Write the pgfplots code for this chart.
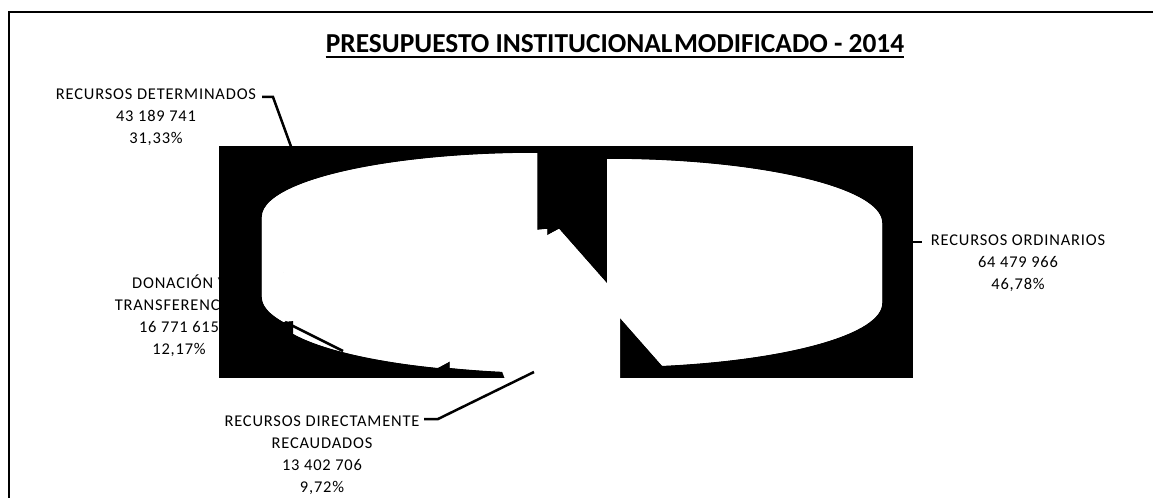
\documentclass[border=0pt]{standalone}
\usepackage{fontspec}
\setmainfont{Carlito}
\usepackage{pgfplots}
\pgfplotsset{compat=1.18}

% shares in %, clockwise from 12 o'clock
\def\pOrd{46.78}
\def\pDir{9.72}
\def\pDon{12.17}
\def\pDet{31.33}
% pie geometry (px)
\def\rxv{275}\def\ryv{64}\def\dep{80bp}

\newcommand\slice[4]{% top-face centre x, y, start angle, end angle
  \fill[white] (axis cs:#1,#2) -- ++(#3:\rxv bp and \ryv bp) arc[start angle=#3,end angle=#4,x radius=\rxv bp,y radius=\ryv bp] -- cycle;
  \fill[white] (axis cs:#1,#2) ++(0,-\dep) -- ++(#3:\rxv bp and \ryv bp) arc[start angle=#3,end angle=#4,x radius=\rxv bp,y radius=\ryv bp] -- cycle;
  \fill[white] (axis cs:#1,#2) -- ++(#3:\rxv bp and \ryv bp) -- ++(0,-\dep) -- ++(#3+180:\rxv bp and \ryv bp) -- cycle;
  \fill[white] (axis cs:#1,#2) -- ++(#4:\rxv bp and \ryv bp) -- ++(0,-\dep) -- ++(#4+180:\rxv bp and \ryv bp) -- cycle;
}
\newcommand\band[4]{% side of the slice between two angles (no vertical tangent inside)
  \fill[white] (axis cs:#1,#2) ++(#3:\rxv bp and \ryv bp) arc[start angle=#3,end angle=#4,x radius=\rxv bp,y radius=\ryv bp]
     -- ++(0,-\dep) arc[start angle=#4,end angle=#3,x radius=\rxv bp,y radius=\ryv bp] -- cycle;
}

\begin{document}
\begin{tikzpicture}
\pgfmathsetmacro\aA{90}
\pgfmathsetmacro\aB{\aA-3.6*\pOrd}
\pgfmathsetmacro\aC{\aB-3.6*\pDir}
\pgfmathsetmacro\aD{\aC-3.6*\pDon}
\pgfmathsetmacro\aE{\aD-3.6*\pDet}
\path[use as bounding box] (0,0) rectangle (1153bp,498bp);
\begin{axis}[at={(0,0)},anchor=south west,scale only axis,width=1153bp,height=498bp,
  xmin=0,xmax=1153,ymin=0,ymax=498,y dir=reverse,hide axis,clip=false]
% frame
\draw[line width=1.5bp] (axis cs:9,510) -- (axis cs:9,12) -- (axis cs:1160,12);
% title
\node[anchor=base,inner sep=0pt,font=\fontsize{27.5}{30}\selectfont\bfseries] (t) at (axis cs:615,53)
  {PRESUPUESTO INSTITUCIONAL\hspace{1.5bp}MODIFICADO - 2014};
\draw[line width=2.2bp] ([yshift=-4bp]t.base west) -- ([yshift=-4bp]t.base east);
% labels (anchor = baseline of the last line)
\tikzset{lab/.style={anchor=base,inner sep=0pt,align=center,
  font=\fontsize{16.5}{22}\selectfont\addfontfeature{LetterSpace=5}}}
\node[lab] at (axis cs:156,143) {RECURSOS DETERMINADOS\\43 189 741\\31,33\%};
\node[lab] at (axis cs:1018,289) {RECURSOS ORDINARIOS\\64 479 966\\46,78\%};
\node[lab] at (axis cs:179,354) {DONACIÓN Y\\TRANSFERENCIAS\\16 771 615\\12,17\%};
\node[lab] at (axis cs:322,492) {RECURSOS DIRECTAMENTE\\RECAUDADOS\\13 402 706\\9,72\%};
\draw[line width=2.5bp] (axis cs:262,97) -- (axis cs:273,97) -- (axis cs:293,152);
\draw[line width=2.5bp] (axis cs:910,242) -- (axis cs:922,242);
% plot area
\fill[black] (axis cs:219,146) rectangle (axis cs:913,378);
\fill[white] (axis cs:505,379) -- (axis cs:620,379) -- (axis cs:620,313) -- (axis cs:607,295)
  -- (axis cs:600,330) -- (axis cs:500,366) -- cycle;
\slice{607}{223}{\aA}{\aB}
\band{607}{223}{\aA}{0}
\band{607}{223}{0}{\aB}
\slice{559}{229}{\aB}{\aC}
\band{559}{229}{\aB}{\aC}
\slice{547}{229}{\aC}{\aD}
\band{547}{229}{\aC}{\aD}
\slice{537}{217}{\aD}{\aE}
\band{537}{217}{\aD}{-180}
\band{537}{217}{-180}{\aE}
\draw[line width=2.5bp] (axis cs:285,322) -- (axis cs:343,351);
\draw[line width=2.5bp] (axis cs:424,419) -- (axis cs:438,419) -- (axis cs:534,372);
\end{axis}
\end{tikzpicture}
\end{document}
